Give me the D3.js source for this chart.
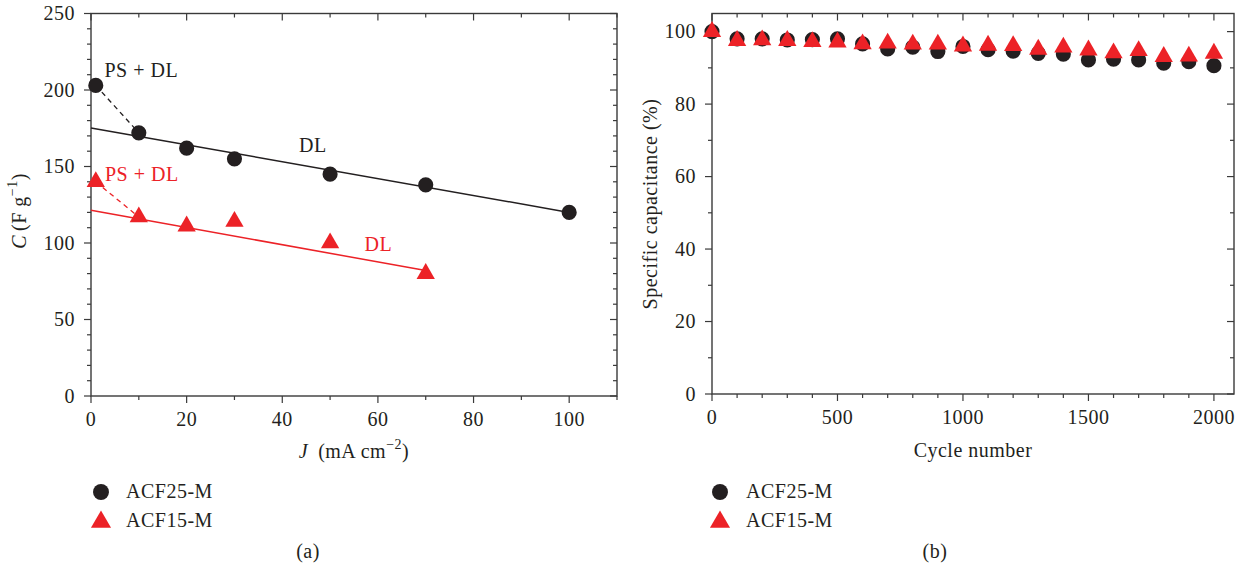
<!DOCTYPE html>
<html>
<head>
<meta charset="utf-8">
<script src="https://cdn.jsdelivr.net/npm/d3@7"></script>
<style>
  body { margin: 0; background: #fff; }
  svg text { font-family: "Liberation Serif", "Times New Roman", serif; fill: #231f20; letter-spacing: 0.5px; }
</style>
</head>
<body>
<div id="container"></div>
<script>
// panel (a): capacitance vs current density
const currentA25 = [1, 10, 20, 30, 50, 70, 100];
const capA25 = [203, 172, 162, 155, 145, 138, 120];
const currentA15 = [1, 10, 20, 30, 50, 70];
const capA15 = [140, 117, 111, 114, 100, 80];
// DL fit lines (end points) and PS+DL dashed segments
const fit25 = [[0, 175.2], [100, 120]];
const fit15 = [[0, 121.4], [70, 82]];
const dash25 = [[1, 203], [10, 172]];
const dash15 = [[1, 140], [10, 117]];

// panel (b): cycling stability
const cycles = [0, 100, 200, 300, 400, 500, 600, 700, 800, 900, 1000,
  1100, 1200, 1300, 1400, 1500, 1600, 1700, 1800, 1900, 2000];
const retain25 = [100, 98.0, 98.0, 97.7, 97.8, 98.0, 96.6, 95.2, 95.7, 94.5, 95.9,
  95.0, 94.6, 94.0, 93.8, 92.2, 92.4, 92.2, 91.3, 91.7, 90.6];
const retain15 = [100, 97.5, 97.7, 97.5, 97.2, 97.1, 96.6, 96.8, 96.5, 96.5, 96.0,
  96.2, 96.1, 95.1, 95.7, 94.9, 94.1, 94.7, 93.1, 93.2, 94.0];

const ticksAX = [0, 20, 40, 60, 80, 100];
const ticksAY = [0, 50, 100, 150, 200, 250];
const ticksBX = [0, 500, 1000, 1500, 2000];
const ticksBY = [0, 20, 40, 60, 80, 100];
const seriesNames = ["ACF25-M", "ACF15-M"];

const black = "#231f20";
const red = "#ec2227";
const frameColor = "#3a3a3a";
const fontSize = "20px";

const svg = d3.select("#container")
  .append("svg")
  .attr("width", 1242)
  .attr("height", 571);

const circleSym = d3.symbol().type(d3.symbolCircle).size(180);
const triSym = d3.symbol().type(d3.symbolTriangle).size(145);

function drawFrame(x, y, xMinor, yMinor, xMajor, yMajor) {
  const [x0, x1] = x.range();
  const [y0, y1] = y.range();
  const g = svg.append("g");
  g.append("rect")
    .attr("x", x0).attr("y", y1)
    .attr("width", x1 - x0).attr("height", y0 - y1)
    .attr("fill", "none")
    .attr("stroke", frameColor)
    .attr("stroke-width", 1.4);

  // bottom / left outward, top / right inward
  xMinor.forEach(v => {
    const len = xMajor.includes(v) ? 7 : 4;
    g.append("line").attr("x1", x(v)).attr("x2", x(v))
      .attr("y1", y0).attr("y2", y0 + len)
      .attr("stroke", frameColor).attr("stroke-width", 1.2);
    g.append("line").attr("x1", x(v)).attr("x2", x(v))
      .attr("y1", y1).attr("y2", y1 + len)
      .attr("stroke", frameColor).attr("stroke-width", 1.2);
  });
  yMinor.forEach(v => {
    const len = yMajor.includes(v) ? 7 : 4;
    g.append("line").attr("y1", y(v)).attr("y2", y(v))
      .attr("x1", x0).attr("x2", x0 - len)
      .attr("stroke", frameColor).attr("stroke-width", 1.2);
    g.append("line").attr("y1", y(v)).attr("y2", y(v))
      .attr("x1", x1).attr("x2", x1 - len)
      .attr("stroke", frameColor).attr("stroke-width", 1.2);
  });

  g.selectAll(".xl").data(xMajor).join("text")
    .attr("x", d => x(d))
    .attr("y", y0 + 30)
    .attr("text-anchor", "middle")
    .style("font-size", fontSize)
    .text(d => d);
  g.selectAll(".yl").data(yMajor).join("text")
    .attr("x", x0 - 16)
    .attr("y", d => y(d))
    .attr("dy", "0.34em")
    .attr("text-anchor", "end")
    .style("font-size", fontSize)
    .text(d => d);
}

// ---------- panel (a)
const xA = d3.scaleLinear().domain([0, 110]).range([91, 617]);
const yA = d3.scaleLinear().domain([0, 250]).range([396, 13.5]);

drawFrame(xA, yA, d3.range(0, 111, 10), d3.range(0, 251, 10), ticksAX, ticksAY);

const lineA = d3.line().x(d => xA(d[0])).y(d => yA(d[1]));

svg.append("path").datum(fit25).attr("d", lineA)
  .attr("stroke", black).attr("stroke-width", 1.5).attr("fill", "none");
svg.append("path").datum(fit15).attr("d", lineA)
  .attr("stroke", red).attr("stroke-width", 1.5).attr("fill", "none");
svg.append("path").datum(dash25).attr("d", lineA)
  .attr("stroke", black).attr("stroke-width", 1.3).attr("fill", "none")
  .attr("stroke-dasharray", "5,4");
svg.append("path").datum(dash15).attr("d", lineA)
  .attr("stroke", red).attr("stroke-width", 1.3).attr("fill", "none")
  .attr("stroke-dasharray", "5,4");

svg.append("g").selectAll("path")
  .data(currentA25.map((c, i) => [c, capA25[i]]))
  .join("path")
  .attr("d", circleSym)
  .attr("transform", d => `translate(${xA(d[0])},${yA(d[1])})`)
  .attr("fill", black);

svg.append("g").selectAll("path")
  .data(currentA15.map((c, i) => [c, capA15[i]]))
  .join("path")
  .attr("d", triSym)
  .attr("transform", d => `translate(${xA(d[0])},${yA(d[1])})`)
  .attr("fill", red);

const notes = [
  {text: "PS + DL", x: 104.5, y: 77, color: black},
  {text: "DL", x: 299, y: 152, color: black},
  {text: "PS + DL", x: 105, y: 181, color: red},
  {text: "DL", x: 364.5, y: 251, color: red}
];
notes.forEach(n => {
  svg.append("text")
    .attr("x", n.x).attr("y", n.y)
    .style("font-size", fontSize)
    .style("fill", n.color)
    .text(n.text);
});

// axis titles (a)
const yTitleA = svg.append("text")
  .attr("transform", "translate(26,211) rotate(-90)")
  .attr("text-anchor", "middle")
  .style("font-size", fontSize);
yTitleA.append("tspan").style("font-style", "italic").text("C");
yTitleA.append("tspan").attr("dx", 4).text("(F g");
yTitleA.append("tspan").attr("dy", -9).style("font-size", "14px").text("−1");
yTitleA.append("tspan").attr("dy", 9).text(")");

const xTitleA = svg.append("text")
  .attr("x", 354).attr("y", 458)
  .attr("text-anchor", "middle")
  .style("font-size", fontSize);
xTitleA.append("tspan").style("font-style", "italic").text("J");
xTitleA.append("tspan").attr("dx", 10).text("(mA cm");
xTitleA.append("tspan").attr("dy", -9).style("font-size", "14px").text("−2");
xTitleA.append("tspan").attr("dy", 9).text(")");

// ---------- panel (b)
const xB = d3.scaleLinear().domain([0, 2080]).range([712, 1234]);
const yB = d3.scaleLinear().domain([0, 105]).range([394, 13.5]);

drawFrame(xB, yB, d3.range(0, 2001, 100), d3.range(0, 101, 10), ticksBX, ticksBY);

svg.append("g").selectAll("path")
  .data(cycles.map((c, i) => [c, retain25[i]]))
  .join("path")
  .attr("d", circleSym)
  .attr("transform", d => `translate(${xB(d[0])},${yB(d[1])})`)
  .attr("fill", black);

svg.append("g").selectAll("path")
  .data(cycles.map((c, i) => [c, retain15[i]]))
  .join("path")
  .attr("d", triSym)
  .attr("transform", d => `translate(${xB(d[0])},${yB(d[1])})`)
  .attr("fill", red);

svg.append("text")
  .attr("transform", "translate(657,204) rotate(-90)")
  .attr("text-anchor", "middle")
  .style("font-size", fontSize)
  .text("Specific capacitance (%)");

svg.append("text")
  .attr("x", 973).attr("y", 457)
  .attr("text-anchor", "middle")
  .style("font-size", fontSize)
  .text("Cycle number");

// ---------- legends and panel letters
const legendSyms = [d3.symbol().type(d3.symbolCircle).size(200), d3.symbol().type(d3.symbolTriangle).size(175)];
const legendColors = [black, red];
[{x: 101, tx: 126, label: "(a)", lx: 308}, {x: 720, tx: 746, label: "(b)", lx: 935}].forEach(p => {
  const legend = svg.append("g");
  seriesNames.forEach((name, i) => {
    legend.append("path")
      .attr("d", legendSyms[i])
      .attr("transform", `translate(${p.x},${i === 0 ? 492 : 522})`)
      .attr("fill", legendColors[i]);
    legend.append("text")
      .attr("x", p.tx)
      .attr("y", i === 0 ? 498 : 527)
      .style("font-size", fontSize)
      .text(name);
  });
  svg.append("text")
    .attr("x", p.lx).attr("y", 558)
    .attr("text-anchor", "middle")
    .style("font-size", fontSize)
    .text(p.label);
});
</script>
</body>
</html>
